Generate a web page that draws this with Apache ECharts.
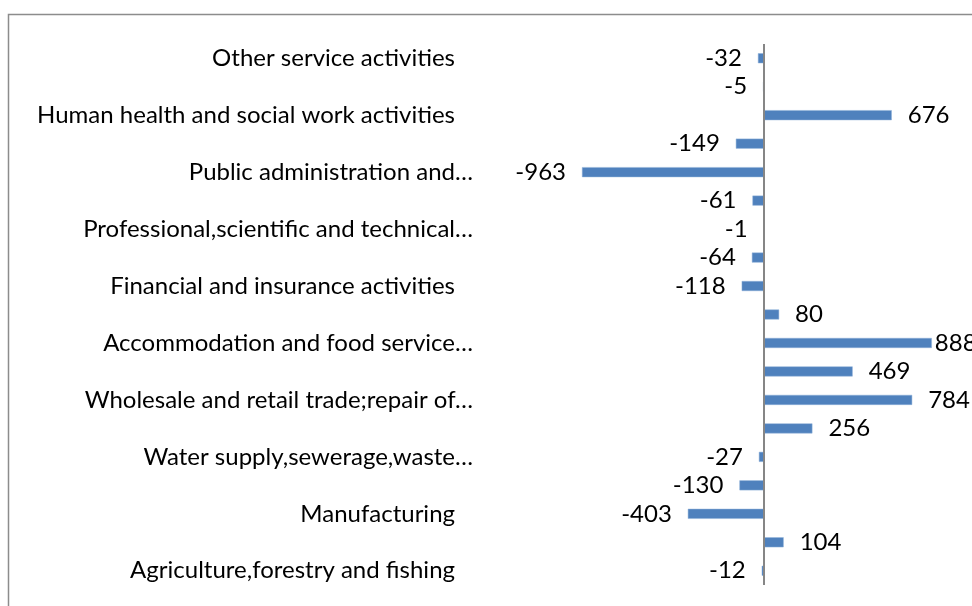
<!DOCTYPE html>
<html>
<head>
<meta charset="utf-8">
<script src="https://cdn.jsdelivr.net/npm/echarts@6/dist/echarts.min.js"></script>
<style>
  html, body { margin: 0; padding: 0; background: #fff; }
  #chart { width: 972px; height: 606px; }
</style>
</head>
<body>
<div id="chart"></div>
<script>
  // sectors, bottom to top (every other label is shown, like the original)
  var sectors = [
    'Agriculture,forestry and fishing',
    'Mining and quarrying',
    'Manufacturing',
    'Electricity,gas,steam and air conditioning supply',
    'Water supply,sewerage,waste…',
    'Construction',
    'Wholesale and retail trade;repair of…',
    'Transportation and storage',
    'Accommodation and food service…',
    'Information and communication',
    'Financial and insurance activities',
    'Real estate activities',
    'Professional,scientific and technical…',
    'Administrative and support service activities',
    'Public administration and…',
    'Education',
    'Human health and social work activities',
    'Arts,entertainment and recreation',
    'Other service activities'
  ]
  var changes = [-12, 104, -403, -130, -27, 256, 784, 469, 888, 80,
    -118, -64, -1, -61, -963, -149, 676, -5, -32]

  var fontFamily = 'Lato, "Open Sans", sans-serif'
  var chart = echarts.init(document.getElementById('chart'))

  var barData = changes.map(function (v) {
    return {
      value: v,
      label: {
        position: v < 0 ? 'left' : 'right',
        distance: v > 850 ? 3 : 16
      }
    }
  })

  chart.setOption({
    animation: false,
    textStyle: { fontFamily: fontFamily },
    graphic: [{
      type: 'rect',
      shape: { x: 8.5, y: 14.5, width: 1000, height: 700 },
      style: { fill: 'none', stroke: '#8c8c8c', lineWidth: 1.5 },
      silent: true
    }],
    grid: {
      left: 575,
      right: 19,
      top: 44,
      bottom: 21
    },
    xAxis: {
      type: 'value',
      min: -1000,
      max: 1000,
      show: false
    },
    yAxis: {
      type: 'category',
      data: sectors,
      axisLine: { show: false },
      axisTick: { show: false },
      axisLabel: {
        interval: 1,
        margin: 102,
        color: '#000',
        fontSize: 24,
        fontFamily: fontFamily,
        formatter: function (txt) {
          return txt.slice(-1) === '…' ? txt : '{p|' + txt + '}'
        },
        rich: {
          p: { padding: [0, 18, 0, 0], fontSize: 24, color: '#000', fontFamily: fontFamily }
        }
      }
    },
    series: [{
      type: 'bar',
      data: barData,
      barWidth: 10,
      itemStyle: { color: '#4f81bd', borderColor: '#8fb0d8', borderWidth: 0.5 },
      label: {
        show: true,
        color: '#000',
        fontSize: 24,
        fontFamily: fontFamily
      },
      markLine: {
        silent: true,
        symbol: 'none',
        label: { show: false },
        lineStyle: { color: '#868686', width: 2, type: 'solid' },
        data: [{ xAxis: 0 }]
      }
    }]
  })
</script>
</body>
</html>
